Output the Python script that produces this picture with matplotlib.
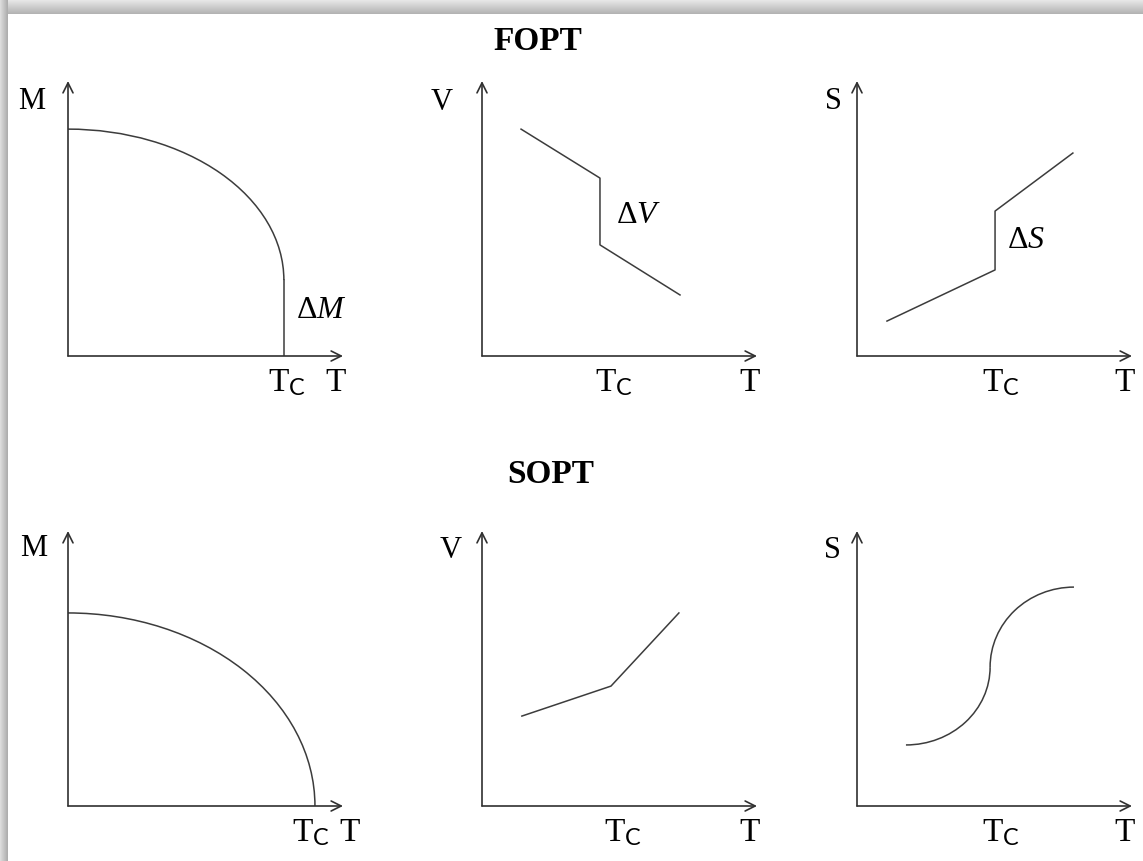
import numpy as np
import matplotlib
matplotlib.use("Agg")
import matplotlib.pyplot as plt
from matplotlib.patches import Arc

plt.rcParams["font.family"] = ["Liberation Serif", "DejaVu Serif"]
plt.rcParams["mathtext.fontset"] = "custom"
plt.rcParams["mathtext.rm"] = "Liberation Serif"
plt.rcParams["mathtext.it"] = "Liberation Serif:italic"
plt.rcParams["mathtext.sf"] = "Lato"

# ---- sketch data (arbitrary units, axes run 0..10) ----
# FOPT magnetisation: quarter ellipse that drops to zero at Tc
fopt_m_tc = 7.85
fopt_m_jump = 2.76       # M just below Tc (size of the jump)
fopt_m_zero = 8.25       # M at T = 0

# FOPT volume: falls, jumps down at Tc, keeps falling
fopt_v_t = [1.42, 4.29, 4.29, 7.20]
fopt_v = [8.25, 6.47, 4.04, 2.22]

# FOPT entropy: rises, jumps up at Tc, keeps rising
fopt_s_t = [1.09, 5.02, 5.02, 7.85]
fopt_s = [1.27, 3.13, 5.27, 7.38]

# SOPT magnetisation: continuous quarter ellipse
sopt_m_tc = 8.98
sopt_m_zero = 7.02

# SOPT volume: kink at Tc
sopt_v_t = [1.45, 4.69, 7.16]
sopt_v = [3.27, 4.36, 7.02]

# SOPT entropy: smooth S-shape, steepest at Tc
sopt_s_t = [1.78, 4.84, 7.89]
sopt_s = [2.22, 5.05, 7.96]

W, H = 1143, 861
LINE = "#3c3c3c"

fig = plt.figure(figsize=(W / 100, H / 100), dpi=100)
fig.patch.set_facecolor("white")

# page shadow along the top and left edges
bg = fig.add_axes([0, 0, 1, 1], zorder=-10)
top = np.linspace(0.90, 0.70, 14)[:, None] * np.ones((1, 2))
bg.imshow(top, cmap="gray", vmin=0, vmax=1, extent=(0, W, 14, 0), aspect="auto")
left = np.linspace(0.86, 0.68, 8)[None, :] * np.ones((2, 1))
bg.imshow(left, cmap="gray", vmin=0, vmax=1, extent=(0, 8, H, 0), aspect="auto")
bg.set_xlim(0, W)
bg.set_ylim(H, 0)
bg.axis("off")


def panel(ox, oy, ylab, ylab_x, ylab_y, tc_x, t_x=9.72):
    ax = fig.add_axes([ox / W, (H - oy) / H, 275 / W, 275 / H])
    ax.set_xlim(0, 10)
    ax.set_ylim(0, 10)
    ax.axis("off")
    arrow = dict(arrowstyle="->", lw=1.2, color="#303030",
                 mutation_scale=18, shrinkA=0, shrinkB=0)
    ax.annotate("", xy=(10, 0), xytext=(0, 0), arrowprops=arrow,
                annotation_clip=False)
    ax.annotate("", xy=(0, 10), xytext=(0, 0), arrowprops=arrow,
                annotation_clip=False)
    ax.text(ylab_x, ylab_y, ylab, fontsize=22, ha="center", va="baseline",
            clip_on=False)
    ax.text(tc_x, -1.27, r"T$_{\mathsf{C}}$", fontsize=24, ha="center",
            va="baseline", clip_on=False)
    ax.text(t_x, -1.27, "T", fontsize=24, ha="center", va="baseline",
            clip_on=False)
    return ax


# ---- FOPT row ----
ax1 = panel(68, 356, "M", -1.31, 8.98, 7.96)
ax1.add_patch(Arc((0, fopt_m_jump), 2 * fopt_m_tc,
                  2 * (fopt_m_zero - fopt_m_jump), theta1=0, theta2=90,
                  color=LINE, lw=1.1))
ax1.plot([fopt_m_tc, fopt_m_tc], [0, fopt_m_jump], color=LINE, lw=1.1)
ax1.text(8.30, 1.38, r"$\Delta M$", fontsize=23, va="baseline")

ax2 = panel(482, 356, "V", -1.45, 8.95, 4.80)
ax2.plot(fopt_v_t, fopt_v, color=LINE, lw=1.1)
ax2.text(4.88, 4.84, r"$\Delta V$", fontsize=23, va="baseline")

ax3 = panel(857, 356, "S", -0.84, 8.98, 5.24)
ax3.plot(fopt_s_t, fopt_s, color=LINE, lw=1.1)
ax3.text(5.47, 3.93, r"$\Delta S$", fontsize=23, va="baseline")

# ---- SOPT row ----
ax4 = panel(68, 806, "M", -1.24, 9.09, 8.84, t_x=10.25)
ax4.add_patch(Arc((0, 0), 2 * sopt_m_tc, 2 * sopt_m_zero,
                  theta1=0, theta2=90, color=LINE, lw=1.1))

ax5 = panel(482, 806, "V", -1.13, 9.02, 5.13)
ax5.plot(sopt_v_t, sopt_v, color=LINE, lw=1.1)

ax6 = panel(857, 806, "S", -0.90, 9.00, 5.24)
ax6.add_patch(Arc((sopt_s_t[0], sopt_s[1]), 2 * (sopt_s_t[1] - sopt_s_t[0]),
                  2 * (sopt_s[1] - sopt_s[0]), theta1=270, theta2=360,
                  color=LINE, lw=1.1))
ax6.add_patch(Arc((sopt_s_t[2], sopt_s[1]), 2 * (sopt_s_t[2] - sopt_s_t[1]),
                  2 * (sopt_s[2] - sopt_s[1]), theta1=90, theta2=180,
                  color=LINE, lw=1.1))

fig.text(538 / W, 1 - 50 / H, "FOPT", fontsize=24, fontweight="bold",
         ha="center", va="baseline")
fig.text(551 / W, 1 - 483 / H, "SOPT", fontsize=24, fontweight="bold",
         ha="center", va="baseline")

fig.savefig("out.png", dpi=100)
